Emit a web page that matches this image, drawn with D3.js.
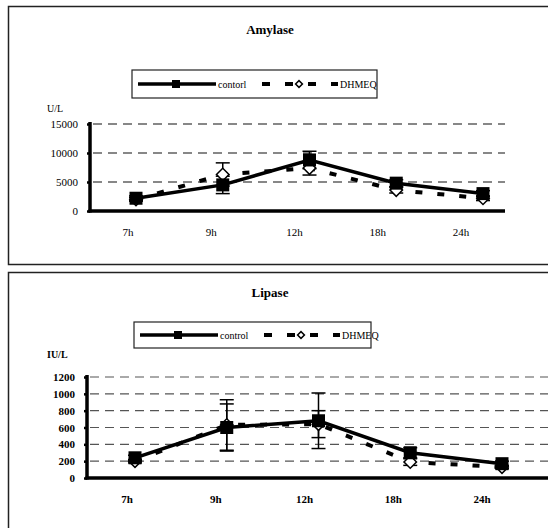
<!DOCTYPE html>
<html lang="en">
<head>
  <meta charset="utf-8">
  <title>Amylase / Lipase</title>
  <script type="text/javascript" src="https://cdn.jsdelivr.net/npm/d3@7"></script>
  <style>
    body { margin: 0; background: #fff; }
  </style>
</head>
<body>
  <div id="chart"></div>
  <script type="text/javascript">
    // values
    let hours = ["7h", "9h", "12h", "18h", "24h"];

    let amylaseTicks = [0, 5000, 10000, 15000];
    let amylaseControl = [2200, 4500, 8800, 4800, 3000];
    let amylaseControlErr = [400, 1500, 1500, 600, 500];
    let amylaseDhmeq = [2000, 6300, 7400, 3600, 2200];
    let amylaseDhmeqErr = [300, 2000, 1200, 500, 400];

    let lipaseTicks = [0, 200, 400, 600, 800, 1000, 1200];
    let lipaseControl = [240, 600, 680, 300, 170];
    let lipaseControlErr = [30, 280, 330, 60, 30];
    let lipaseDhmeq = [200, 630, 640, 190, 130];
    let lipaseDhmeqErr = [20, 300, 160, 40, 20];

    let serif = "'Liberation Serif', 'Times New Roman', Tinos, 'DejaVu Serif', serif";

    let svg = d3.select("#chart")
      .append("svg")
      .attr("width", 548)
      .attr("height", 528)
      .attr("font-family", serif);

    function drawPanel(p) {
      let g = svg.append("g");

      // outer frame
      g.append("rect")
        .attr("x", 8.5).attr("y", p.boxTop)
        .attr("width", 600).attr("height", p.boxH)
        .attr("fill", "none").attr("stroke", "#222").attr("stroke-width", 1.5);

      g.append("text")
        .attr("x", 270).attr("y", p.titleY)
        .attr("text-anchor", "middle")
        .style("font-family", serif)
        .style("font-size", "13px").style("font-weight", "bold")
        .text(p.title);

      // legend
      let lg = g.append("g");
      lg.append("rect")
        .attr("x", p.legX).attr("y", p.legY)
        .attr("width", p.legW).attr("height", p.legH)
        .attr("fill", "#fff").attr("stroke", "#222").attr("stroke-width", 1.2);
      let ly = p.legY + p.legH / 2;
      lg.append("line")
        .attr("x1", p.legX + 6).attr("x2", p.legX + 84).attr("y1", ly).attr("y2", ly)
        .attr("stroke", "#000").attr("stroke-width", 3.5);
      lg.append("rect")
        .attr("x", p.legX + 40).attr("y", ly - 4).attr("width", 8).attr("height", 8)
        .attr("fill", "#000");
      lg.append("text")
        .attr("x", p.legX + 86).attr("y", ly + 3.5)
        .style("font-family", serif)
        .style("font-size", "10px").text(p.ctrlName);
      lg.append("line")
        .attr("x1", p.legX + 130).attr("x2", p.legX + 206).attr("y1", ly).attr("y2", ly)
        .attr("stroke", "#000").attr("stroke-width", 4)
        .attr("stroke-dasharray", "8,15");
      lg.append("path")
        .attr("d", d3.symbol().type(d3.symbolSquare2).size(30))
        .attr("transform", "translate(" + (p.legX + 167) + "," + ly + ") rotate(45)")
        .attr("fill", "#fff").attr("stroke", "#000").attr("stroke-width", 1.5);
      lg.append("text")
        .attr("x", p.legX + 208).attr("y", ly + 3.5)
        .style("font-family", serif)
        .style("font-size", "10px").text("DHMEQ");

      // unit label
      g.append("text")
        .attr("x", 47).attr("y", p.unitY)
        .style("font-family", serif)
        .style("font-size", "10px").style("font-weight", p.weight)
        .text(p.unit);

      let y = d3.scaleLinear()
        .domain([0, p.ticks[p.ticks.length - 1]])
        .range([p.y0, p.y1]);
      let x = d3.scalePoint().domain(hours).range(p.xMarks);
      let xl = d3.scalePoint().domain(hours).range(p.xLabels);

      // dashed gridlines
      g.selectAll("line.grid")
        .data(p.ticks.filter(d => d > 0))
        .enter().append("line")
        .attr("class", "grid")
        .attr("x1", p.axisX + 3).attr("x2", p.axisEnd)
        .attr("y1", d => y(d)).attr("y2", d => y(d))
        .attr("stroke", p.gridColor).attr("stroke-width", 1.2)
        .attr("stroke-dasharray", "9,6");

      // y axis
      let yAxis = d3.axisLeft(y).tickValues(p.ticks).tickSize(3).tickPadding(9)
        .tickFormat(d3.format("d"));
      let ya = g.append("g")
        .attr("transform", "translate(" + p.axisX + ",0)")
        .call(yAxis)
        .attr("font-family", serif);
      ya.select(".domain").remove();
      ya.selectAll(".tick line").attr("stroke", "#000").attr("stroke-width", 2.5);
      ya.selectAll(".tick text")
        .style("font-family", serif)
        .style("font-size", "11px").style("font-weight", p.weight);
      g.append("line")
        .attr("x1", p.axisX).attr("x2", p.axisX)
        .attr("y1", p.y1 - 2).attr("y2", p.y0 + 1.5)
        .attr("stroke", "#000").attr("stroke-width", 3.5);

      // x axis line and labels
      g.append("line")
        .attr("x1", p.axisX - 1.5).attr("x2", p.axisEnd)
        .attr("y1", p.y0).attr("y2", p.y0)
        .attr("stroke", "#000").attr("stroke-width", 3.5);
      g.selectAll("text.cat")
        .data(hours)
        .enter().append("text")
        .attr("class", "cat")
        .attr("x", d => xl(d)).attr("y", p.labelY)
        .attr("text-anchor", "middle")
        .style("font-family", serif)
        .style("font-size", "11px").style("font-weight", p.weight)
        .text(d => d);

      let line = d3.line()
        .x((d, i) => x(hours[i]))
        .y(d => y(d));

      g.append("path")
        .attr("d", line(p.dhmeq))
        .attr("fill", "none").attr("stroke", "#000").attr("stroke-width", 4)
        .attr("stroke-dasharray", "7,15");
      g.append("path")
        .attr("d", line(p.control))
        .attr("fill", "none").attr("stroke", "#000").attr("stroke-width", 3.5);

      // error bars
      let series = [[p.control, p.controlErr], [p.dhmeq, p.dhmeqErr]];
      series.forEach(function(s) {
        let eb = g.selectAll(null)
          .data(s[0])
          .enter().append("g")
          .attr("transform", (d, i) => "translate(" + x(hours[i]) + ",0)");
        eb.append("line")
          .attr("y1", (d, i) => y(d + s[1][i])).attr("y2", (d, i) => y(d - s[1][i]))
          .attr("stroke", "#000").attr("stroke-width", 1.5);
        eb.append("line")
          .attr("x1", -7).attr("x2", 7)
          .attr("y1", (d, i) => y(d + s[1][i])).attr("y2", (d, i) => y(d + s[1][i]))
          .attr("stroke", "#000").attr("stroke-width", 1.5);
        eb.append("line")
          .attr("x1", -7).attr("x2", 7)
          .attr("y1", (d, i) => y(d - s[1][i])).attr("y2", (d, i) => y(d - s[1][i]))
          .attr("stroke", "#000").attr("stroke-width", 1.5);
      });

      // markers
      g.selectAll(null)
        .data(p.dhmeq)
        .enter().append("path")
        .attr("d", d3.symbol().type(d3.symbolSquare2).size(100))
        .attr("transform", (d, i) => "translate(" + x(hours[i]) + "," + y(d) + ") rotate(45)")
        .attr("fill", "#fff").attr("stroke", "#000").attr("stroke-width", 1.5);
      g.selectAll(null)
        .data(p.control)
        .enter().append("rect")
        .attr("x", (d, i) => x(hours[i]) - 6.5)
        .attr("y", d => y(d) - 6.5)
        .attr("width", 13).attr("height", 13)
        .attr("fill", "#000");
    }

    drawPanel({
      title: "Amylase", unit: "U/L", ctrlName: "contorl", weight: "normal",
      boxTop: 6.5, boxH: 258, titleY: 34,
      legX: 132, legY: 70, legW: 245, legH: 28, unitY: 112,
      ticks: amylaseTicks, y0: 211, y1: 124,
      axisX: 90, axisEnd: 505, xMarks: [136, 483], xLabels: [128, 461], labelY: 236,
      gridColor: "#111",
      control: amylaseControl, controlErr: amylaseControlErr,
      dhmeq: amylaseDhmeq, dhmeqErr: amylaseDhmeqErr
    });

    drawPanel({
      title: "Lipase", unit: "IU/L", ctrlName: "control", weight: "bold",
      boxTop: 272.5, boxH: 300, titleY: 297,
      legX: 134, legY: 322, legW: 237, legH: 26, unitY: 358,
      ticks: lipaseTicks, y0: 478, y1: 377,
      axisX: 87, axisEnd: 560, xMarks: [135, 502], xLabels: [127, 482], labelY: 503,
      gridColor: "#555",
      control: lipaseControl, controlErr: lipaseControlErr,
      dhmeq: lipaseDhmeq, dhmeqErr: lipaseDhmeqErr
    });
  </script>
</body>
</html>
